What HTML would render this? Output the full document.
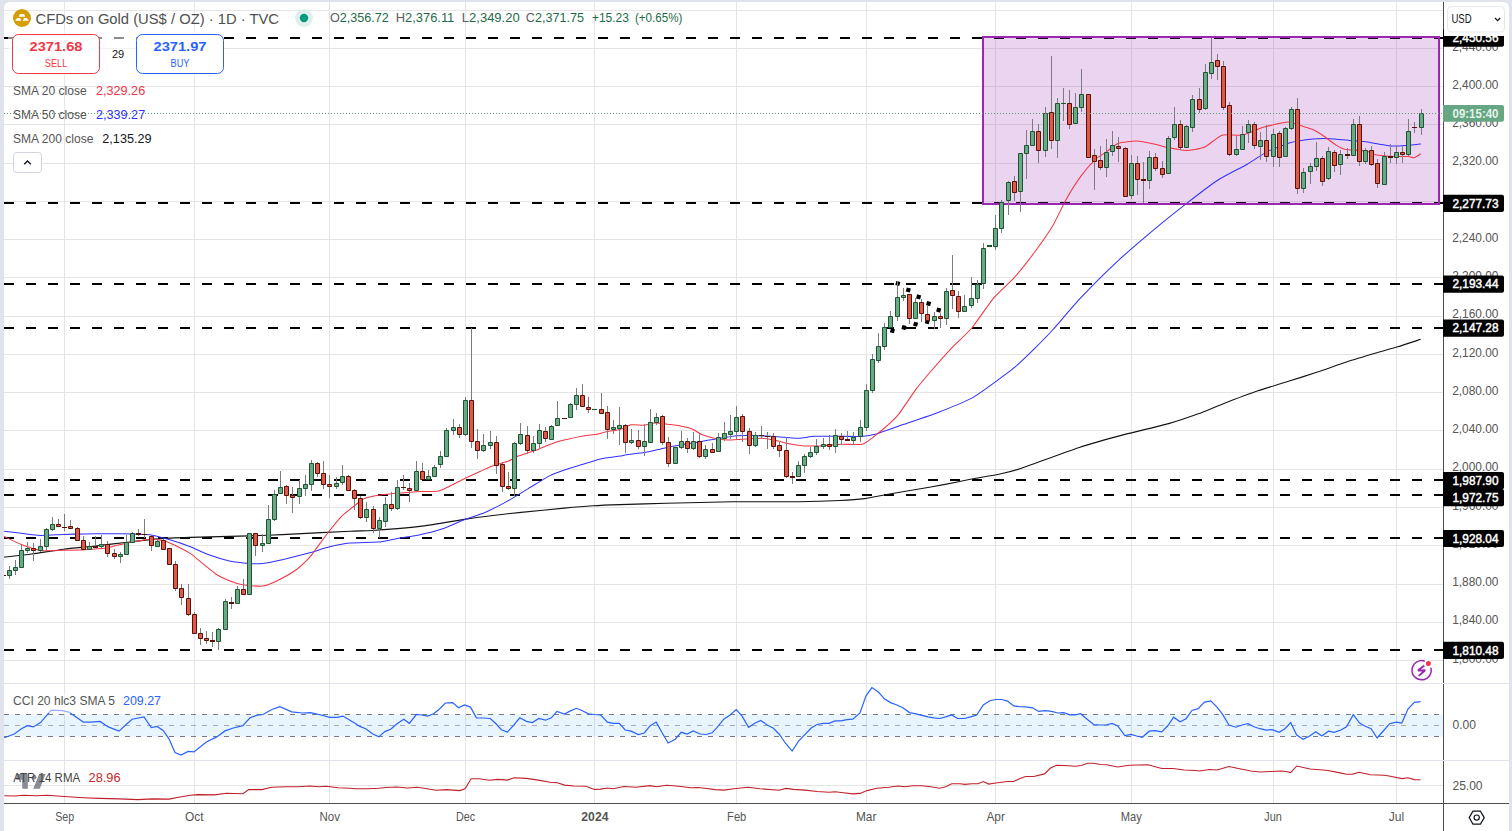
<!DOCTYPE html>
<html><head><meta charset="utf-8"><title>CFDs on Gold</title>
<style>
html,body{margin:0;padding:0;background:#e0e3eb;overflow:hidden;}
svg{display:block;font-family:"Liberation Sans", sans-serif;}
</style></head><body>
<svg width="1512" height="831" viewBox="0 0 1512 831">
<defs>
<clipPath id="mainclip"><rect x="4" y="2" width="1439" height="681"/></clipPath>
<clipPath id="cciclip"><rect x="4" y="684" width="1439" height="76"/></clipPath>
<clipPath id="atrclip"><rect x="4" y="761" width="1439" height="42"/></clipPath>
</defs>
<rect x="0" y="0" width="1512" height="831" fill="#e0e3eb"/>
<path d="M4,7 Q4,2 9,2 L1504,2 Q1509,2 1509,7 L1509,831 L4,831 Z" fill="#ffffff"/>

<path d="M4,660.5H1443 M4,622.5H1443 M4,584.5H1443 M4,545.5H1443 M4,507.5H1443 M4,469.5H1443 M4,430.5H1443 M4,392.5H1443 M4,354.5H1443 M4,316.5H1443 M4,277.5H1443 M4,239.5H1443 M4,201.5H1443 M4,163.5H1443 M4,124.5H1443 M4,86.5H1443 M4,48.5H1443 M4,10.5H1443 M64.5,2V803 M194.5,2V803 M329.5,2V803 M465.5,2V803 M594.5,2V803 M736.5,2V803 M866.5,2V803 M995.5,2V803 M1131.5,2V803 M1273.5,2V803 M1396.5,2V803 M4,785.5H1443" stroke="#e5e5e5" stroke-width="1" fill="none"/>
<g clip-path="url(#mainclip)">
<line x1="4" y1="38" x2="1443" y2="38" stroke="#000" stroke-width="2" stroke-dasharray="10 12"/>
<line x1="4" y1="203" x2="1443" y2="203" stroke="#000" stroke-width="2" stroke-dasharray="10 12"/>
<line x1="4" y1="284" x2="1443" y2="284" stroke="#000" stroke-width="2" stroke-dasharray="10 12"/>
<line x1="4" y1="328" x2="1443" y2="328" stroke="#000" stroke-width="2" stroke-dasharray="10 12"/>
<line x1="4" y1="480" x2="1443" y2="480" stroke="#000" stroke-width="2" stroke-dasharray="10 12"/>
<line x1="4" y1="495" x2="1443" y2="495" stroke="#000" stroke-width="2" stroke-dasharray="10 12"/>
<line x1="4" y1="538" x2="1443" y2="538" stroke="#000" stroke-width="2" stroke-dasharray="10 12"/>
<line x1="4" y1="650" x2="1443" y2="650" stroke="#000" stroke-width="2" stroke-dasharray="10 12"/>
<rect x="983" y="37" width="456" height="167" fill="rgba(156,39,176,0.2)"/>
<path d="M4.20,557.10C6.95,556.79 25.77,554.79 31.70,554.00C37.63,553.21 57.15,550.00 63.50,549.20C69.85,548.40 88.85,546.69 95.20,546.00C101.55,545.31 120.52,543.04 127.00,542.30C133.48,541.56 153.73,539.09 160.00,538.60C166.27,538.11 180.78,537.67 189.70,537.40C198.62,537.13 239.94,536.18 249.20,535.90C258.46,535.62 272.22,535.07 282.30,534.60C292.38,534.13 341.00,531.61 350.00,531.20C359.00,530.79 365.30,530.98 372.30,530.50C379.30,530.02 410.63,527.54 420.00,526.40C429.37,525.26 458.70,520.19 466.00,519.10C473.30,518.01 487.49,516.17 493.00,515.50C498.51,514.83 513.96,513.14 521.10,512.40C528.24,511.66 557.25,508.76 564.40,508.10C571.55,507.44 587.04,506.15 592.60,505.80C598.16,505.45 612.65,504.85 620.00,504.60C627.35,504.35 654.87,503.58 666.10,503.30C677.33,503.02 719.07,501.96 732.30,501.80C745.53,501.64 787.63,501.83 798.40,501.70C809.17,501.57 833.38,500.81 840.00,500.50C846.62,500.19 859.50,499.27 864.60,498.60C869.70,497.93 885.71,494.73 891.00,493.80C896.29,492.87 912.21,490.22 917.50,489.30C922.79,488.38 938.61,485.60 943.90,484.60C949.19,483.60 964.79,480.36 970.40,479.30C976.01,478.24 995.06,475.05 1000.00,474.00C1004.94,472.95 1011.87,471.46 1019.80,468.80C1027.73,466.14 1068.89,450.82 1079.30,447.40C1089.71,443.98 1114.97,436.98 1123.90,434.60C1132.83,432.22 1161.16,425.68 1168.60,423.60C1176.04,421.52 1192.95,415.74 1198.30,413.80C1203.65,411.86 1216.14,406.50 1222.10,404.20C1228.06,401.90 1251.35,393.06 1257.90,390.80C1264.45,388.54 1281.65,383.47 1287.60,381.60C1293.55,379.73 1311.45,374.09 1317.40,372.10C1323.35,370.11 1341.15,363.64 1347.10,361.70C1353.05,359.76 1371.84,354.19 1376.90,352.70C1381.96,351.21 1393.32,348.14 1397.70,346.80C1402.08,345.46 1418.40,340.05 1420.70,339.30" fill="none" stroke="#131313" stroke-width="1.1"/>
<path d="M4.20,531.20C5.90,531.41 17.60,532.88 21.20,533.30C24.80,533.72 35.97,535.29 40.20,535.40C44.43,535.51 59.05,534.55 63.50,534.40C67.95,534.25 80.47,533.97 84.70,533.90C88.93,533.83 101.04,533.70 105.80,533.70C110.56,533.70 127.88,533.79 132.30,533.90C136.72,534.01 146.25,534.21 150.00,534.80C153.75,535.39 165.83,538.63 169.80,539.80C173.77,540.97 185.73,544.97 189.70,546.50C193.67,548.03 205.53,553.65 209.50,555.10C213.47,556.55 225.43,560.17 229.40,561.00C233.37,561.83 245.90,563.16 249.20,563.40C252.50,563.64 259.09,563.77 262.40,563.40C265.71,563.03 277.67,560.73 282.30,559.70C286.93,558.67 304.07,554.36 308.70,553.10C313.33,551.84 324.47,548.10 328.60,547.10C332.73,546.10 345.06,543.60 350.00,543.10C354.94,542.60 373.26,542.56 378.00,542.10C382.74,541.64 393.20,539.23 397.40,538.50C401.60,537.77 415.57,535.74 420.00,534.80C424.43,533.86 437.22,530.62 441.70,529.10C446.18,527.58 460.47,521.27 464.80,519.60C469.13,517.93 480.82,514.20 485.00,512.40C489.18,510.60 502.27,503.98 506.60,501.60C510.93,499.22 523.96,491.20 528.30,488.60C532.64,486.00 546.39,477.47 550.00,475.60C553.61,473.73 561.52,470.91 564.40,469.90C567.28,468.89 575.19,466.59 578.80,465.50C582.41,464.41 596.38,459.94 600.50,459.00C604.62,458.06 617.40,456.53 620.00,456.10C622.60,455.67 623.93,455.08 626.50,454.70C629.07,454.32 641.85,452.98 645.70,452.30C649.55,451.62 661.13,448.70 665.00,447.90C668.87,447.10 680.72,444.95 684.40,444.30C688.08,443.65 698.43,441.98 701.80,441.40C705.17,440.82 714.54,439.06 718.10,438.50C721.66,437.94 734.01,436.09 737.40,435.80C740.79,435.51 748.62,435.55 752.00,435.60C755.38,435.65 766.58,436.04 771.20,436.30C775.82,436.56 793.86,438.20 798.20,438.20C802.54,438.20 810.22,436.49 814.60,436.30C818.98,436.11 837.31,436.29 842.00,436.30C846.69,436.31 858.05,436.64 861.50,436.40C864.95,436.16 872.35,435.08 876.50,433.90C880.65,432.72 896.91,426.72 903.00,424.60C909.09,422.48 930.52,415.35 937.40,412.70C944.28,410.05 966.24,401.01 971.80,398.10C977.36,395.19 988.76,386.64 993.00,383.60C997.24,380.56 1009.97,371.28 1014.20,367.70C1018.43,364.12 1031.46,351.57 1035.30,347.80C1039.14,344.03 1048.09,334.96 1052.60,330.00C1057.11,325.04 1074.08,304.92 1080.40,298.20C1086.72,291.48 1108.47,269.63 1115.80,262.80C1123.13,255.97 1146.62,235.84 1153.70,229.90C1160.78,223.96 1180.28,208.32 1186.60,203.40C1192.92,198.48 1210.84,184.62 1216.90,180.70C1222.96,176.78 1242.15,167.11 1247.20,164.20C1252.25,161.29 1263.10,153.75 1267.40,151.60C1271.70,149.45 1285.65,143.96 1290.20,142.70C1294.75,141.44 1308.92,139.40 1312.90,139.00C1316.88,138.60 1326.49,138.57 1330.00,138.70C1333.51,138.83 1344.63,140.02 1348.00,140.30C1351.37,140.58 1360.69,141.14 1363.70,141.50C1366.71,141.86 1375.45,143.45 1378.10,143.90C1380.75,144.35 1387.79,145.82 1390.20,146.00C1392.61,146.18 1399.80,145.82 1402.20,145.70C1404.60,145.58 1412.33,144.98 1414.20,144.80C1416.07,144.62 1420.23,143.99 1420.90,143.90" fill="none" stroke="#3030ff" stroke-width="1.05"/>
<path d="M4.20,536.50C5.90,537.29 17.39,542.99 21.20,544.40C25.01,545.81 38.07,550.01 42.30,550.60C46.53,551.19 59.26,550.39 63.50,550.30C67.74,550.21 80.47,549.92 84.70,549.70C88.93,549.48 101.57,548.78 105.80,548.10C110.03,547.42 123.29,543.69 127.00,542.90C130.71,542.11 140.60,540.57 142.90,540.20C145.20,539.83 147.70,539.10 150.00,539.20C152.30,539.30 161.93,539.81 165.90,541.20C169.87,542.59 186.00,550.85 189.70,553.10C193.40,555.35 200.26,561.59 202.90,563.70C205.54,565.81 213.45,572.49 216.10,574.20C218.75,575.91 226.75,579.74 229.40,580.80C232.05,581.86 239.30,584.27 242.60,584.80C245.90,585.33 259.09,586.43 262.40,586.10C265.71,585.77 272.39,583.08 275.70,581.50C279.01,579.92 292.20,572.61 295.50,570.30C298.80,567.99 306.73,560.43 308.70,558.40C310.67,556.37 313.16,552.71 315.20,550.00C317.24,547.29 326.52,534.62 329.10,531.30C331.68,527.98 338.35,519.44 341.00,516.80C343.65,514.16 353.21,506.76 355.60,504.90C357.99,503.04 362.39,499.20 364.90,498.20C367.41,497.20 377.13,495.42 380.70,494.90C384.27,494.38 396.62,493.33 400.60,493.00C404.58,492.67 416.68,491.81 420.50,491.60C424.32,491.39 435.85,491.46 438.80,490.90C441.75,490.34 447.40,487.24 450.00,486.00C452.60,484.76 461.80,479.95 464.80,478.50C467.80,477.05 476.97,472.87 480.00,471.50C483.03,470.13 492.29,465.83 495.10,464.80C497.91,463.77 505.79,462.07 508.10,461.20C510.41,460.33 515.46,457.19 518.20,456.10C520.94,455.01 531.60,451.74 535.50,450.30C539.40,448.86 552.43,443.14 557.20,441.70C561.97,440.26 579.42,436.61 583.20,435.90C586.98,435.19 592.60,435.03 595.00,434.60C597.40,434.17 604.70,432.12 607.20,431.60C609.70,431.08 617.59,430.08 620.00,429.40C622.41,428.72 628.92,425.21 631.30,424.80C633.68,424.39 641.39,425.49 643.80,425.30C646.21,425.11 652.78,422.98 655.40,422.90C658.02,422.82 667.58,424.21 670.00,424.50C672.42,424.79 677.39,425.36 679.60,425.80C681.81,426.24 689.88,428.02 692.10,428.90C694.32,429.78 699.49,433.64 701.80,434.60C704.11,435.56 712.61,437.97 715.20,438.50C717.79,439.03 725.48,439.80 727.70,439.90C729.92,440.00 734.01,439.67 737.40,439.50C740.79,439.33 757.73,438.09 761.60,438.20C765.47,438.31 773.21,440.02 776.10,440.60C778.99,441.18 787.62,443.47 790.50,444.00C793.38,444.53 802.01,445.71 804.90,445.90C807.79,446.09 815.69,446.06 819.40,445.90C823.11,445.74 837.62,444.50 842.00,444.30C846.38,444.10 859.49,445.08 863.20,443.90C866.91,442.72 875.65,435.36 879.10,432.50C882.55,429.64 893.99,419.66 897.70,415.30C901.41,410.94 913.03,393.13 916.20,388.90C919.37,384.67 925.96,376.98 929.40,373.00C932.84,369.02 946.36,353.60 950.60,349.10C954.84,344.60 967.56,333.03 971.80,328.00C976.04,322.97 988.76,303.83 993.00,298.80C997.24,293.77 1009.97,282.46 1014.20,277.70C1018.43,272.94 1031.46,256.36 1035.30,251.20C1039.14,246.04 1049.60,231.13 1052.60,226.10C1055.60,221.07 1062.52,205.82 1065.30,200.90C1068.08,195.98 1077.37,181.07 1080.40,176.90C1083.43,172.73 1092.99,161.70 1095.60,159.20C1098.21,156.70 1104.22,153.50 1106.50,151.90C1108.78,150.30 1115.36,144.29 1118.40,143.20C1121.44,142.11 1133.33,140.92 1136.90,141.00C1140.47,141.08 1151.15,143.37 1154.10,144.00C1157.05,144.63 1163.25,146.65 1166.40,147.30C1169.55,147.95 1181.81,150.50 1185.60,150.50C1189.39,150.50 1200.66,148.83 1204.30,147.30C1207.94,145.77 1218.21,136.41 1222.00,135.20C1225.79,133.99 1238.16,135.96 1242.20,135.20C1246.24,134.44 1257.85,128.92 1262.40,127.60C1266.95,126.28 1283.66,122.13 1287.70,122.00C1291.74,121.87 1300.33,125.57 1302.80,126.30C1305.27,127.03 1310.24,128.28 1312.40,129.30C1314.56,130.32 1322.04,134.92 1324.40,136.50C1326.76,138.08 1334.00,143.82 1336.00,145.10C1338.00,146.38 1342.95,148.82 1344.40,149.30C1345.85,149.78 1348.33,149.72 1350.50,149.90C1352.67,150.08 1363.58,150.61 1366.10,151.10C1368.62,151.59 1373.29,154.28 1375.70,154.80C1378.11,155.32 1386.95,156.12 1390.20,156.30C1393.45,156.48 1405.80,156.45 1408.20,156.60C1410.60,156.75 1412.93,158.10 1414.20,157.80C1415.47,157.50 1420.23,154.02 1420.90,153.60" fill="none" stroke="#f23645" stroke-width="1.05"/>
<rect x="983" y="37" width="456" height="167" fill="none" stroke="#9c27b0" stroke-width="2"/>
<path d="M899.27,286.05L895.25,284.98L896.32,280.95L900.35,282.02Z M909.77,292.55L905.75,291.48L906.82,287.45L910.85,288.52Z M920.07,299.45L916.05,298.38L917.12,294.35L921.15,295.42Z M930.07,306.15L926.05,305.08L927.12,301.05L931.15,302.12Z M940.17,312.65L936.15,311.58L937.22,307.55L941.25,308.62Z M893.88,333.25L889.85,332.18L890.92,328.15L894.95,329.22Z M905.48,330.15L901.45,329.08L902.52,325.05L906.55,326.12Z M917.07,326.75L913.05,325.68L914.12,321.65L918.15,322.72Z M928.77,324.35L924.75,323.28L925.82,319.25L929.85,320.32Z" fill="#000"/>
<path d="M3.5,575V576 M9.5,566V579 M15.5,560V575 M21.5,545V568 M27.5,542V553 M33.5,543V561 M40.5,539V552 M46.5,528V550 M52.5,517V531 M58.5,519V527 M64.5,514V531 M70.5,520V529 M77.5,527V541 M83.5,536V550 M89.5,542V550 M95.5,536V548 M101.5,535V548 M107.5,541V557 M114.5,549V559 M120.5,552V563 M126.5,535V555 M132.5,532V542 M138.5,529V536 M144.5,519V538 M151.5,535V551 M157.5,538V546 M163.5,539V549 M169.5,548V564 M175.5,561V591 M181.5,584V605 M188.5,584V616 M194.5,612V633 M200.5,628V645 M206.5,631V644 M212.5,632V647 M218.5,628V650 M225.5,599V629 M231.5,597V609 M237.5,586V604 M243.5,579V595 M249.5,533V595 M255.5,533V556 M262.5,534V552 M268.5,505V543 M274.5,490V521 M280.5,471V494 M286.5,485V504 M292.5,487V513 M299.5,480V504 M305.5,475V496 M311.5,460V491 M317.5,462V477 M323.5,461V489 M329.5,475V498 M336.5,477V489 M342.5,465V485 M348.5,475V490 M354.5,489V510 M360.5,496V519 M366.5,502V522 M373.5,506V533 M379.5,517V538 M385.5,497V527 M391.5,492V511 M397.5,480V510 M403.5,475V490 M409.5,483V502 M416.5,461V490 M422.5,463V480 M428.5,470V480 M434.5,465V477 M440.5,451V468 M446.5,428V456 M453.5,419V435 M459.5,424V438 M465.5,397V436 M471.5,328V448 M477.5,429V459 M483.5,434V452 M490.5,431V449 M496.5,436V474 M502.5,462V492 M508.5,472V490 M514.5,442V496 M520.5,423V445 M527.5,426V454 M533.5,436V453 M539.5,424V448 M545.5,427V442 M551.5,425V440 M557.5,401V426 M564.5,418V419 M570.5,403V418 M576.5,388V410 M582.5,384V406 M588.5,397V413 M594.5,409V410 M601.5,393V414 M607.5,406V439 M613.5,420V434 M619.5,407V445 M625.5,424V453 M631.5,429V444 M638.5,430V449 M644.5,424V456 M650.5,409V442 M656.5,413V425 M662.5,415V445 M668.5,437V467 M675.5,447V464 M681.5,431V449 M687.5,438V453 M693.5,432V450 M699.5,434V458 M705.5,445V459 M712.5,443V452 M718.5,433V452 M724.5,422V441 M730.5,415V439 M736.5,406V440 M742.5,414V442 M749.5,428V454 M755.5,432V447 M761.5,426V439 M767.5,432V449 M773.5,433V449 M779.5,442V457 M786.5,437V478 M792.5,472V484 M798.5,461V477 M804.5,454V473 M810.5,447V458 M816.5,439V455 M823.5,438V449 M829.5,435V450 M835.5,429V453 M841.5,433V445 M847.5,431V440 M853.5,432V445 M860.5,420V442 M866.5,384V431 M872.5,354V393 M878.5,333V363 M884.5,323V350 M890.5,311V327 M897.5,281V321 M903.5,288V301 M909.5,294V324 M915.5,298V318 M921.5,299V322 M927.5,305V320 M934.5,312V329 M940.5,313V328 M946.5,288V325 M952.5,255V309 M958.5,291V318 M964.5,295V311 M971.5,277V308 M977.5,280V303 M983.5,243V289 M989.5,245V246 M995.5,215V250 M1001.5,200V233 M1008.5,181V215 M1014.5,176V201 M1020.5,153V212 M1026.5,130V179 M1032.5,119V146 M1038.5,124V163 M1045.5,107V157 M1051.5,56V149 M1057.5,98V158 M1063.5,88V121 M1069.5,90V129 M1075.5,93V124 M1081.5,69V112 M1088.5,94V158 M1094.5,149V190 M1100.5,146V170 M1106.5,139V177 M1112.5,131V156 M1118.5,137V162 M1125.5,147V197 M1131.5,155V199 M1137.5,156V195 M1143.5,162V203 M1149.5,151V189 M1155.5,153V171 M1162.5,161V178 M1168.5,136V174 M1174.5,107V140 M1180.5,120V150 M1186.5,125V148 M1192.5,95V132 M1199.5,88V113 M1205.5,64V110 M1211.5,38V79 M1217.5,54V80 M1223.5,61V110 M1229.5,102V156 M1236.5,136V156 M1242.5,126V150 M1248.5,120V143 M1254.5,122V149 M1260.5,132V160 M1266.5,125V162 M1273.5,129V167 M1279.5,131V167 M1285.5,127V157 M1291.5,107V130 M1297.5,98V194 M1303.5,168V193 M1310.5,163V184 M1316.5,142V171 M1322.5,156V186 M1328.5,147V180 M1334.5,150V172 M1340.5,150V175 M1347.5,148V159 M1353.5,119V156 M1359.5,116V166 M1365.5,148V164 M1371.5,146V166 M1377.5,159V188 M1384.5,152V184 M1390.5,144V163 M1396.5,146V164 M1402.5,146V163 M1408.5,119V156 M1414.5,122V133 M1421.5,109V135" stroke="#7b7b80" stroke-width="1" fill="none"/>
<path d="M7.5,570.5h4v5h-4z M13.5,567.5h4v3h-4z M19.5,550.5h4v17h-4z M25.5,548.5h4v2h-4z M38.5,546.5h4v4h-4z M44.5,529.5h4v17h-4z M50.5,524.5h4v5h-4z M87.5,546.5h4v3h-4z M99.5,544.5h4v2h-4z M118.5,554.5h4v2h-4z M124.5,542.5h4v12h-4z M130.5,533.5h4v9h-4z M155.5,541.5h4v5h-4z M216.5,629.5h4v12h-4z M223.5,601.5h4v28h-4z M235.5,589.5h4v14h-4z M247.5,533.5h4v61h-4z M260.5,543.5h4v2h-4z M266.5,519.5h4v24h-4z M272.5,494.5h4v25h-4z M278.5,487.5h4v6h-4z M297.5,488.5h4v8h-4z M303.5,484.5h4v4h-4z M309.5,463.5h4v21h-4z M334.5,483.5h4v3h-4z M340.5,476.5h4v6h-4z M364.5,509.5h4v8h-4z M377.5,520.5h4v8h-4z M383.5,504.5h4v17h-4z M395.5,487.5h4v21h-4z M414.5,471.5h4v19h-4z M426.5,476.5h4v3h-4z M432.5,467.5h4v9h-4z M438.5,456.5h4v8h-4z M444.5,430.5h4v26h-4z M451.5,427.5h4v3h-4z M463.5,400.5h4v34h-4z M481.5,445.5h4v5h-4z M488.5,442.5h4v3h-4z M512.5,443.5h4v45h-4z M518.5,434.5h4v9h-4z M531.5,443.5h4v7h-4z M537.5,430.5h4v13h-4z M549.5,426.5h4v13h-4z M555.5,418.5h4v7h-4z M568.5,404.5h4v13h-4z M574.5,395.5h4v9h-4z M611.5,427.5h4v2h-4z M617.5,425.5h4v3h-4z M629.5,440.5h4v2h-4z M642.5,441.5h4v5h-4z M648.5,422.5h4v20h-4z M654.5,417.5h4v5h-4z M673.5,447.5h4v16h-4z M679.5,441.5h4v6h-4z M691.5,441.5h4v7h-4z M703.5,449.5h4v7h-4z M716.5,437.5h4v14h-4z M722.5,433.5h4v5h-4z M728.5,431.5h4v3h-4z M734.5,417.5h4v14h-4z M753.5,435.5h4v10h-4z M796.5,465.5h4v11h-4z M802.5,456.5h4v9h-4z M808.5,452.5h4v4h-4z M814.5,446.5h4v6h-4z M821.5,444.5h4v2h-4z M833.5,435.5h4v11h-4z M851.5,437.5h4v3h-4z M858.5,427.5h4v9h-4z M864.5,390.5h4v37h-4z M870.5,359.5h4v31h-4z M876.5,346.5h4v14h-4z M882.5,327.5h4v19h-4z M888.5,316.5h4v11h-4z M895.5,297.5h4v19h-4z M901.5,295.5h4v2h-4z M913.5,302.5h4v16h-4z M932.5,316.5h4v4h-4z M944.5,291.5h4v27h-4z M962.5,306.5h4v5h-4z M969.5,298.5h4v7h-4z M975.5,284.5h4v14h-4z M981.5,248.5h4v35h-4z M993.5,228.5h4v18h-4z M999.5,202.5h4v26h-4z M1006.5,182.5h4v18h-4z M1018.5,153.5h4v38h-4z M1024.5,145.5h4v8h-4z M1030.5,131.5h4v14h-4z M1043.5,113.5h4v37h-4z M1055.5,103.5h4v37h-4z M1073.5,107.5h4v16h-4z M1079.5,94.5h4v13h-4z M1104.5,152.5h4v15h-4z M1110.5,145.5h4v6h-4z M1129.5,163.5h4v32h-4z M1147.5,157.5h4v23h-4z M1166.5,138.5h4v35h-4z M1172.5,124.5h4v13h-4z M1184.5,126.5h4v21h-4z M1190.5,99.5h4v28h-4z M1203.5,72.5h4v36h-4z M1209.5,62.5h4v11h-4z M1234.5,149.5h4v5h-4z M1240.5,134.5h4v15h-4z M1246.5,124.5h4v8h-4z M1258.5,140.5h4v6h-4z M1271.5,134.5h4v22h-4z M1283.5,128.5h4v28h-4z M1289.5,109.5h4v19h-4z M1301.5,172.5h4v16h-4z M1308.5,166.5h4v5h-4z M1314.5,158.5h4v8h-4z M1326.5,151.5h4v27h-4z M1338.5,154.5h4v10h-4z M1351.5,124.5h4v31h-4z M1363.5,150.5h4v11h-4z M1382.5,156.5h4v28h-4z M1394.5,152.5h4v5h-4z M1406.5,131.5h4v23h-4z M1419.5,113.5h4v14h-4z" fill="#6aa886" stroke="#1b5631" stroke-width="1"/>
<path d="M31.5,548.5h4v2h-4z M56.5,524.5h4v2h-4z M68.5,526.5h4v2h-4z M75.5,528.5h4v12h-4z M81.5,540.5h4v9h-4z M105.5,544.5h4v9h-4z M112.5,553.5h4v3h-4z M149.5,536.5h4v9h-4z M161.5,540.5h4v9h-4z M167.5,548.5h4v16h-4z M173.5,564.5h4v24h-4z M179.5,588.5h4v9h-4z M186.5,598.5h4v16h-4z M192.5,614.5h4v19h-4z M198.5,633.5h4v5h-4z M204.5,638.5h4v2h-4z M241.5,589.5h4v5h-4z M253.5,533.5h4v12h-4z M284.5,486.5h4v9h-4z M290.5,495.5h4v2h-4z M315.5,463.5h4v10h-4z M321.5,473.5h4v11h-4z M327.5,484.5h4v2h-4z M346.5,476.5h4v14h-4z M352.5,490.5h4v8h-4z M358.5,498.5h4v19h-4z M371.5,509.5h4v19h-4z M389.5,504.5h4v4h-4z M407.5,488.5h4v2h-4z M420.5,471.5h4v8h-4z M457.5,427.5h4v7h-4z M469.5,400.5h4v41h-4z M475.5,441.5h4v9h-4z M494.5,442.5h4v23h-4z M500.5,464.5h4v22h-4z M506.5,486.5h4v2h-4z M525.5,435.5h4v15h-4z M543.5,431.5h4v7h-4z M580.5,395.5h4v11h-4z M586.5,407.5h4v2h-4z M599.5,409.5h4v4h-4z M605.5,412.5h4v17h-4z M623.5,425.5h4v17h-4z M636.5,440.5h4v6h-4z M660.5,416.5h4v26h-4z M666.5,442.5h4v21h-4z M685.5,441.5h4v7h-4z M697.5,441.5h4v15h-4z M710.5,449.5h4v3h-4z M740.5,416.5h4v15h-4z M747.5,431.5h4v14h-4z M771.5,436.5h4v10h-4z M777.5,445.5h4v5h-4z M784.5,450.5h4v26h-4z M827.5,444.5h4v2h-4z M839.5,436.5h4v3h-4z M907.5,294.5h4v24h-4z M919.5,302.5h4v11h-4z M925.5,314.5h4v6h-4z M938.5,316.5h4v2h-4z M950.5,290.5h4v5h-4z M956.5,296.5h4v15h-4z M1012.5,181.5h4v11h-4z M1036.5,131.5h4v19h-4z M1049.5,112.5h4v28h-4z M1067.5,103.5h4v21h-4z M1086.5,94.5h4v63h-4z M1092.5,155.5h4v6h-4z M1098.5,160.5h4v7h-4z M1116.5,146.5h4v2h-4z M1123.5,148.5h4v48h-4z M1135.5,163.5h4v16h-4z M1153.5,157.5h4v11h-4z M1160.5,168.5h4v6h-4z M1178.5,124.5h4v23h-4z M1197.5,99.5h4v10h-4z M1215.5,60.5h4v6h-4z M1221.5,66.5h4v41h-4z M1227.5,105.5h4v49h-4z M1252.5,124.5h4v21h-4z M1264.5,140.5h4v16h-4z M1277.5,133.5h4v24h-4z M1295.5,109.5h4v79h-4z M1320.5,158.5h4v23h-4z M1332.5,152.5h4v13h-4z M1357.5,124.5h4v37h-4z M1369.5,150.5h4v14h-4z M1375.5,163.5h4v20h-4z M1400.5,152.5h4v2h-4z" fill="#de5a48" stroke="#5a0f08" stroke-width="1"/>
<path d="M592,409h5v1h-5z M987,245h5v2h-5z M1061,103h5v1h-5z" fill="#1b5631"/>
<path d="M1,575h5v1h-5z M62,527h5v1h-5z M93,546h5v2h-5z M136,533h5v2h-5z M142,534h5v1h-5z M210,640h5v2h-5z M229,602h5v2h-5z M401,487h5v1h-5z M562,418h5v1h-5z M759,435h5v1h-5z M765,436h5v1h-5z M790,476h5v2h-5z M845,439h5v2h-5z M1141,179h5v2h-5z M1345,154h5v2h-5z M1388,156h5v2h-5z M1412,127h5v1h-5z" fill="#5a0f08"/>
<line x1="4" y1="113.5" x2="1443" y2="113.5" stroke="#5a9c78" stroke-width="1" stroke-dasharray="1 2"/>
</g>
<rect x="8" y="30" width="216" height="46" fill="rgba(255,255,255,0.55)"/>
<circle cx="22" cy="18" r="9" fill="#d59e06"/>
<path d="M19.9,13.9L24.1,13.9L25.2,16.8L18.8,16.8Z M17.2,18.1L20.0,18.1L21.3,20.8L15.2,20.8Z M24.0,18.1L26.8,18.1L28.8,20.8L22.7,20.8Z" fill="#fff"/>
<text x="35.5" y="23.6" font-size="14.5" fill="#505050" textLength="243.5" lengthAdjust="spacingAndGlyphs">CFDs on Gold (US$ / OZ) · 1D · TVC</text>
<circle cx="304" cy="18" r="9" fill="#dff0ec"/><circle cx="304" cy="18" r="4.2" fill="#089981"/>
<text x="329.9" y="22.4" font-size="12.6" fill="#1e6b48" textLength="58.9" lengthAdjust="spacingAndGlyphs"><tspan fill="#5d5d5d">O</tspan>2,356.72</text>
<text x="395.7" y="22.4" font-size="12.6" fill="#1e6b48" textLength="58.6" lengthAdjust="spacingAndGlyphs"><tspan fill="#5d5d5d">H</tspan>2,376.11</text>
<text x="461.8" y="22.4" font-size="12.6" fill="#1e6b48" textLength="57.9" lengthAdjust="spacingAndGlyphs"><tspan fill="#5d5d5d">L</tspan>2,349.20</text>
<text x="525.8" y="22.4" font-size="12.6" fill="#1e6b48" textLength="58.2" lengthAdjust="spacingAndGlyphs"><tspan fill="#5d5d5d">C</tspan>2,371.75</text>
<text x="591.9" y="22.4" font-size="12.6" fill="#1e6b48" textLength="37.1" lengthAdjust="spacingAndGlyphs">+15.23</text>
<text x="634.9" y="22.4" font-size="12.6" fill="#1e6b48" textLength="47.6" lengthAdjust="spacingAndGlyphs">(+0.65%)</text>
<rect x="12.5" y="34.5" width="87" height="39" rx="6" fill="#fff" stroke="#f23645" stroke-width="1"/>
<text x="56" y="51" font-size="13.5" font-weight="bold" fill="#f23645" text-anchor="middle" textLength="53" lengthAdjust="spacingAndGlyphs">2371.68</text>
<text x="56" y="67" font-size="11" fill="#f23645" text-anchor="middle" textLength="22.5" lengthAdjust="spacingAndGlyphs">SELL</text>
<text x="118" y="58" font-size="11" fill="#131722" text-anchor="middle">29</text>
<rect x="136.5" y="34.5" width="87" height="39" rx="6" fill="#fff" stroke="#2962ff" stroke-width="1"/>
<text x="180" y="51" font-size="13.5" font-weight="bold" fill="#2962ff" text-anchor="middle" textLength="53" lengthAdjust="spacingAndGlyphs">2371.97</text>
<text x="180" y="67" font-size="11" fill="#2962ff" text-anchor="middle" textLength="18.9" lengthAdjust="spacingAndGlyphs">BUY</text>
<text x="13" y="94.8" font-size="12.3" fill="#555" textLength="73.6" lengthAdjust="spacingAndGlyphs">SMA 20 close</text>
<text x="95.9" y="94.8" font-size="12.3" fill="#f23645" textLength="49.3" lengthAdjust="spacingAndGlyphs">2,329.26</text>
<text x="13" y="118.8" font-size="12.3" fill="#555" textLength="73.6" lengthAdjust="spacingAndGlyphs">SMA 50 close</text>
<text x="95.9" y="118.8" font-size="12.3" fill="#3030ff" textLength="49.3" lengthAdjust="spacingAndGlyphs">2,339.27</text>
<text x="13" y="143" font-size="12.3" fill="#555" textLength="80.5" lengthAdjust="spacingAndGlyphs">SMA 200 close</text>
<text x="102.3" y="143" font-size="12.3" fill="#131722" textLength="49.3" lengthAdjust="spacingAndGlyphs">2,135.29</text>
<rect x="13.5" y="152.5" width="28" height="20" rx="3" fill="#fff" stroke="#d1d4dc" stroke-width="1"/>
<path d="M24.2,164.3l3.3,-3.3l3.3,3.3" fill="none" stroke="#131722" stroke-width="1.4"/>
<rect x="1444" y="2" width="65" height="801" fill="#fff"/>
<path d="M1443.5,2V683 M1443.5,684V760 M1443.5,761V831" stroke="#4e4e4e" stroke-width="1"/>
<text x="1498.5" y="662.7" font-size="12.2" fill="#555" text-anchor="end" textLength="46.3" lengthAdjust="spacingAndGlyphs">1,800.00</text>
<text x="1498.5" y="624.4" font-size="12.2" fill="#555" text-anchor="end" textLength="46.3" lengthAdjust="spacingAndGlyphs">1,840.00</text>
<text x="1498.5" y="586.2" font-size="12.2" fill="#555" text-anchor="end" textLength="46.3" lengthAdjust="spacingAndGlyphs">1,880.00</text>
<text x="1498.5" y="547.9" font-size="12.2" fill="#555" text-anchor="end" textLength="46.3" lengthAdjust="spacingAndGlyphs">1,920.00</text>
<text x="1498.5" y="509.6" font-size="12.2" fill="#555" text-anchor="end" textLength="46.3" lengthAdjust="spacingAndGlyphs">1,960.00</text>
<text x="1498.5" y="471.4" font-size="12.2" fill="#555" text-anchor="end" textLength="46.3" lengthAdjust="spacingAndGlyphs">2,000.00</text>
<text x="1498.5" y="433.1" font-size="12.2" fill="#555" text-anchor="end" textLength="46.3" lengthAdjust="spacingAndGlyphs">2,040.00</text>
<text x="1498.5" y="394.9" font-size="12.2" fill="#555" text-anchor="end" textLength="46.3" lengthAdjust="spacingAndGlyphs">2,080.00</text>
<text x="1498.5" y="356.6" font-size="12.2" fill="#555" text-anchor="end" textLength="46.3" lengthAdjust="spacingAndGlyphs">2,120.00</text>
<text x="1498.5" y="318.3" font-size="12.2" fill="#555" text-anchor="end" textLength="46.3" lengthAdjust="spacingAndGlyphs">2,160.00</text>
<text x="1498.5" y="280.1" font-size="12.2" fill="#555" text-anchor="end" textLength="46.3" lengthAdjust="spacingAndGlyphs">2,200.00</text>
<text x="1498.5" y="241.8" font-size="12.2" fill="#555" text-anchor="end" textLength="46.3" lengthAdjust="spacingAndGlyphs">2,240.00</text>
<text x="1498.5" y="203.5" font-size="12.2" fill="#555" text-anchor="end" textLength="46.3" lengthAdjust="spacingAndGlyphs">2,280.00</text>
<text x="1498.5" y="165.3" font-size="12.2" fill="#555" text-anchor="end" textLength="46.3" lengthAdjust="spacingAndGlyphs">2,320.00</text>
<text x="1498.5" y="127.0" font-size="12.2" fill="#555" text-anchor="end" textLength="46.3" lengthAdjust="spacingAndGlyphs">2,360.00</text>
<text x="1498.5" y="88.7" font-size="12.2" fill="#555" text-anchor="end" textLength="46.3" lengthAdjust="spacingAndGlyphs">2,400.00</text>
<text x="1498.5" y="50.5" font-size="12.2" fill="#555" text-anchor="end" textLength="46.3" lengthAdjust="spacingAndGlyphs">2,440.00</text>
<path d="M1443,29.47h59a2,2 0 0 1 2,2v13.2a2,2 0 0 1 -2,2h-59z" fill="#000"/>
<text x="1498.5" y="42.3" font-size="12.2" fill="#fff" stroke="#fff" stroke-width="0.45" text-anchor="end" textLength="46" lengthAdjust="spacingAndGlyphs">2,450.56</text>
<path d="M1443,194.80h59a2,2 0 0 1 2,2v13.2a2,2 0 0 1 -2,2h-59z" fill="#000"/>
<text x="1498.5" y="207.6" font-size="12.2" fill="#fff" stroke="#fff" stroke-width="0.45" text-anchor="end" textLength="46" lengthAdjust="spacingAndGlyphs">2,277.73</text>
<path d="M1443,275.44h59a2,2 0 0 1 2,2v13.2a2,2 0 0 1 -2,2h-59z" fill="#000"/>
<text x="1498.5" y="288.2" font-size="12.2" fill="#fff" stroke="#fff" stroke-width="0.45" text-anchor="end" textLength="46" lengthAdjust="spacingAndGlyphs">2,193.44</text>
<path d="M1443,319.59h59a2,2 0 0 1 2,2v13.2a2,2 0 0 1 -2,2h-59z" fill="#000"/>
<text x="1498.5" y="332.4" font-size="12.2" fill="#fff" stroke="#fff" stroke-width="0.45" text-anchor="end" textLength="46" lengthAdjust="spacingAndGlyphs">2,147.28</text>
<path d="M1443,472.05h59a2,2 0 0 1 2,2v13.2a2,2 0 0 1 -2,2h-59z" fill="#000"/>
<text x="1498.5" y="484.9" font-size="12.2" fill="#fff" stroke="#fff" stroke-width="0.45" text-anchor="end" textLength="46" lengthAdjust="spacingAndGlyphs">1,987.90</text>
<path d="M1443,489.05h59a2,2 0 0 1 2,2v13.2a2,2 0 0 1 -2,2h-59z" fill="#000"/>
<text x="1498.5" y="501.8" font-size="12.2" fill="#fff" stroke="#fff" stroke-width="0.45" text-anchor="end" textLength="46" lengthAdjust="spacingAndGlyphs">1,972.75</text>
<path d="M1443,529.92h59a2,2 0 0 1 2,2v13.2a2,2 0 0 1 -2,2h-59z" fill="#000"/>
<text x="1498.5" y="542.7" font-size="12.2" fill="#fff" stroke="#fff" stroke-width="0.45" text-anchor="end" textLength="46" lengthAdjust="spacingAndGlyphs">1,928.04</text>
<path d="M1443,641.77h59a2,2 0 0 1 2,2v13.2a2,2 0 0 1 -2,2h-59z" fill="#000"/>
<text x="1498.5" y="654.6" font-size="12.2" fill="#fff" stroke="#fff" stroke-width="0.45" text-anchor="end" textLength="46" lengthAdjust="spacingAndGlyphs">1,810.48</text>
<path d="M1443,105h59a2,2 0 0 1 2,2v12.7a2,2 0 0 1 -2,2h-59z" fill="#66a683"/>
<text x="1498.5" y="118" font-size="12" font-weight="bold" fill="#e3f3ea" text-anchor="end" textLength="46" lengthAdjust="spacingAndGlyphs">09:15:40</text>
<rect x="1444" y="2" width="65" height="34" fill="#fff"/>
<rect x="1447.5" y="6.5" width="57" height="25.5" rx="4" fill="#fff" stroke="#e6e8ee" stroke-width="1"/>
<text x="1451.4" y="22.9" font-size="12.4" fill="#131722" textLength="20.2" lengthAdjust="spacingAndGlyphs">USD</text>
<path d="M1495,18l2.6,2.6l2.6,-2.6" fill="none" stroke="#131722" stroke-width="1.3"/>
<circle cx="1421.6" cy="670.3" r="12" fill="#fff"/>
<path d="M1430.83,667.6A9.6,9.6 0 1 1 1424.73,661.17" fill="none" stroke="#9c27b0" stroke-width="1.5"/>
<path d="M1424.3,665.6L1418.0,670.6L1425.2,670.3L1418.6,675.9" fill="none" stroke="#9c27b0" stroke-width="1.9" stroke-linejoin="miter" stroke-miterlimit="3"/>
<circle cx="1428.4" cy="663.5" r="2.5" fill="#f23645"/>
<rect x="4" y="714.5" width="1439" height="22" fill="rgba(33,150,243,0.1)"/>
<line x1="4" y1="714.5" x2="1443" y2="714.5" stroke="#787b86" stroke-width="1" stroke-dasharray="5 6"/>
<line x1="4" y1="725.5" x2="1443" y2="725.5" stroke="#787b86" stroke-opacity="0.6" stroke-width="1" stroke-dasharray="5 6"/>
<line x1="4" y1="736.5" x2="1443" y2="736.5" stroke="#787b86" stroke-width="1" stroke-dasharray="5 6"/>
<g clip-path="url(#cciclip)"><polyline points="4.3,737.8 14.3,734.0 21.4,728.8 27.4,725.7 33.3,726.9 40.5,722.6 51.2,710.2 61.9,710.7 69.0,712.1 83.3,722.1 90.5,722.1 100.0,721.4 108.3,726.9 119.0,731.1 126.2,724.5 132.1,719.2 144.0,716.9 151.2,727.6 157.1,726.4 163.1,730.4 169.0,738.8 175.0,752.6 181.0,755.0 188.1,751.4 194.0,751.9 206.0,742.3 216.7,736.9 225.0,730.9 233.3,728.0 242.9,725.7 250.0,717.8 257.1,715.2 263.1,714.5 271.4,709.7 279.8,706.6 291.7,711.9 302.4,713.0 310.7,712.6 319.0,714.5 329.8,717.3 336.9,717.3 342.9,716.1 350.0,720.2 355.0,723.3 359.8,726.4 365.7,728.8 372.9,734.0 378.8,736.9 384.8,731.6 390.7,729.2 396.7,724.0 403.8,719.2 409.3,723.3 416.4,714.5 421.7,715.0 427.6,716.1 433.6,713.8 439.5,709.0 445.5,703.0 452.6,702.6 458.6,707.8 464.5,705.0 470.5,707.1 476.4,717.8 483.6,718.0 490.2,718.5 495.5,723.3 501.4,729.7 507.4,732.1 513.3,725.7 519.8,717.8 526.4,721.4 532.4,722.6 538.8,718.5 545.5,720.2 551.4,717.8 556.9,711.4 564.5,714.0 570.5,710.9 576.4,708.3 582.4,710.7 588.3,713.8 594.3,714.5 600.7,715.0 607.4,722.1 613.3,723.3 619.3,723.3 625.2,730.0 631.2,731.1 638.3,734.5 644.3,733.0 650.2,725.7 656.2,722.1 662.1,732.8 668.1,743.0 675.2,739.2 681.2,732.3 687.1,734.0 693.1,730.9 700.2,734.0 706.2,734.5 712.1,732.8 717.1,727.3 723.8,719.2 730.2,715.0 736.2,709.5 742.1,716.1 748.6,727.3 754.8,723.3 760.7,720.4 767.1,725.0 773.1,728.0 779.0,734.0 785.7,743.5 792.1,751.1 798.6,741.1 804.8,734.7 811.2,728.0 817.1,724.5 823.1,723.3 829.0,723.3 835.0,720.9 841.0,720.9 846.9,719.7 852.9,719.2 860.0,713.0 866.0,695.9 871.9,687.6 878.6,692.3 884.5,698.8 890.5,702.6 896.9,705.0 902.9,707.8 909.5,712.6 916.0,713.8 921.9,715.4 927.9,716.9 933.8,717.8 939.8,718.5 945.7,716.9 951.7,715.0 957.6,718.5 964.3,718.5 970.7,716.9 976.7,715.0 983.3,705.0 989.8,700.7 995.7,699.5 1001.7,699.5 1007.6,701.1 1013.6,705.9 1019.5,706.6 1025.5,706.9 1032.6,707.8 1038.6,711.4 1045.2,710.7 1051.7,711.4 1057.6,713.0 1063.6,712.6 1070.0,714.9 1075.1,714.9 1080.6,713.7 1087.1,719.2 1093.9,724.7 1100.2,725.0 1105.7,725.0 1112.0,723.5 1117.8,726.0 1124.8,735.5 1130.8,734.3 1136.6,736.0 1142.4,737.3 1149.2,731.2 1155.0,730.7 1161.8,731.8 1168.0,725.5 1173.6,717.2 1180.1,721.7 1186.1,718.7 1191.9,710.4 1198.2,708.6 1204.5,702.1 1210.8,700.8 1217.0,707.1 1222.8,714.7 1228.9,725.0 1235.9,727.2 1242.2,725.0 1248.0,723.7 1254.0,726.7 1259.8,728.7 1266.1,730.2 1272.3,729.7 1279.1,732.3 1284.9,728.7 1290.7,722.5 1296.7,735.0 1303.2,739.3 1309.3,736.3 1315.8,731.8 1321.8,736.0 1328.4,731.2 1334.4,732.3 1341.0,730.0 1346.5,726.7 1353.3,714.7 1359.6,723.0 1365.3,726.2 1371.1,728.7 1377.1,738.0 1383.7,730.5 1389.7,723.7 1396.2,722.2 1401.8,723.0 1408.0,709.1 1414.3,702.3 1420.6,701.6" fill="none" stroke="#2962ff" stroke-width="1.2"/></g>
<rect x="8" y="693" width="158" height="20" fill="rgba(255,255,255,0.5)"/>
<text x="13" y="704.6" font-size="12.3" fill="#555" textLength="102" lengthAdjust="spacingAndGlyphs">CCI 20 hlc3 SMA 5</text>
<text x="123" y="704.6" font-size="12.3" fill="#2962ff" textLength="38" lengthAdjust="spacingAndGlyphs">209.27</text>
<text x="1452.5" y="729.3" font-size="12" fill="#555">0.00</text>
<g clip-path="url(#atrclip)"><polyline points="4.3,795.8 14.3,796.0 23.8,795.3 35.7,795.8 47.6,795.3 64.3,796.5 83.3,797.7 100.0,798.4 119.0,798.9 138.1,799.6 152.4,798.9 169.0,799.1 178.6,797.2 190.5,795.3 197.6,794.6 214.3,794.9 226.2,793.2 242.9,793.7 248.8,789.6 261.9,789.6 271.4,787.2 285.7,786.8 297.6,786.8 309.5,786.0 319.0,786.8 326.2,786.3 338.1,787.7 350.0,788.2 355.0,788.7 366.9,788.7 378.8,788.2 386.0,787.5 396.7,787.0 407.4,788.0 416.9,787.2 424.0,788.2 436.0,790.3 446.7,789.6 459.8,790.6 465.0,788.7 471.2,778.7 478.8,778.7 489.5,780.3 497.9,779.4 507.4,780.1 514.0,777.7 526.4,778.4 538.3,780.1 550.2,782.2 557.4,782.7 564.5,785.1 574.0,786.0 585.9,786.3 594.3,789.4 600.2,789.1 607.4,788.0 613.3,788.7 624.0,786.5 635.9,787.2 650.2,785.6 656.2,786.8 666.9,785.3 678.8,786.3 690.7,787.7 697.9,787.5 705.0,788.2 715.0,789.6 724.3,790.1 733.8,788.7 748.1,787.2 760.0,788.7 779.0,790.3 785.7,788.4 793.3,789.4 805.2,790.1 817.1,791.5 829.0,792.2 835.0,791.8 843.3,792.7 852.9,793.9 860.0,793.4 867.1,790.6 876.7,788.2 888.6,787.2 898.1,786.0 905.2,786.8 912.4,785.8 921.9,785.8 929.0,786.5 939.8,788.2 945.7,786.8 951.7,783.7 960.0,783.7 964.8,784.4 971.9,783.7 977.9,783.7 983.3,781.5 988.6,784.1 995.7,783.0 1007.6,781.5 1013.6,781.5 1019.5,778.7 1025.5,776.5 1033.8,776.5 1044.5,773.9 1050.5,768.0 1056.4,765.3 1065.0,765.5 1075.1,766.3 1081.3,765.5 1087.6,763.3 1093.9,763.3 1100.2,764.5 1106.5,764.8 1117.8,767.0 1129.1,765.3 1147.9,764.8 1161.8,768.5 1173.1,768.5 1184.4,770.0 1195.7,770.5 1199.5,771.0 1209.5,769.5 1217.0,770.0 1228.9,766.5 1240.9,769.0 1251.0,771.0 1259.8,772.0 1271.1,771.5 1281.1,771.0 1286.2,771.5 1290.7,772.6 1296.7,766.0 1310.0,769.0 1326.4,770.3 1338.9,772.6 1346.5,774.3 1352.8,774.1 1359.1,772.3 1370.3,774.8 1384.2,775.3 1390.5,776.3 1401.8,778.6 1408.0,777.8 1414.3,779.6 1420.6,779.8" fill="none" stroke="#c0202a" stroke-width="1.1"/></g>
<path d="M16.2,774H27.8V788.7H22.2V779.7H16.2Z M39.2,774.1H45.6L39.8,788.7H33.2Z" fill="#898c94"/><circle cx="34.3" cy="777.2" r="2.2" fill="#898c94"/>
<text x="13.2" y="781.7" font-size="12.3" fill="#444" textLength="67" lengthAdjust="spacingAndGlyphs">ATR 14 RMA</text>
<text x="88.6" y="781.5" font-size="12.3" fill="#c62828" textLength="32" lengthAdjust="spacingAndGlyphs">28.96</text>
<text x="1452.5" y="790" font-size="12" fill="#555">25.00</text>
<path d="M4,683.5H1509 M4,760.5H1509" stroke="#e0e3eb" stroke-width="1"/>
<path d="M4,803.5H1443" stroke="#4e4e4e" stroke-width="1"/>
<path d="M1444,803.5H1509" stroke="#4e4e4e" stroke-width="1"/>
<text x="64.7" y="820.9" font-size="12.2" fill="#555" font-weight="normal" text-anchor="middle" textLength="18.9" lengthAdjust="spacingAndGlyphs">Sep</text>
<text x="194.2" y="820.9" font-size="12.2" fill="#555" font-weight="normal" text-anchor="middle" textLength="18.5" lengthAdjust="spacingAndGlyphs">Oct</text>
<text x="329.8" y="820.9" font-size="12.2" fill="#555" font-weight="normal" text-anchor="middle" textLength="20.5" lengthAdjust="spacingAndGlyphs">Nov</text>
<text x="465.5" y="820.9" font-size="12.2" fill="#555" font-weight="normal" text-anchor="middle" textLength="19.2" lengthAdjust="spacingAndGlyphs">Dec</text>
<text x="594.9" y="820.9" font-size="12.2" fill="#555" font-weight="bold" text-anchor="middle" textLength="27.1" lengthAdjust="spacingAndGlyphs">2024</text>
<text x="736.7" y="820.9" font-size="12.2" fill="#555" font-weight="normal" text-anchor="middle" textLength="19.2" lengthAdjust="spacingAndGlyphs">Feb</text>
<text x="866.2" y="820.9" font-size="12.2" fill="#555" font-weight="normal" text-anchor="middle" textLength="20.5" lengthAdjust="spacingAndGlyphs">Mar</text>
<text x="995.7" y="820.9" font-size="12.2" fill="#555" font-weight="normal" text-anchor="middle" textLength="18.5" lengthAdjust="spacingAndGlyphs">Apr</text>
<text x="1131.3" y="820.9" font-size="12.2" fill="#555" font-weight="normal" text-anchor="middle" textLength="21" lengthAdjust="spacingAndGlyphs">May</text>
<text x="1273.1" y="820.9" font-size="12.2" fill="#555" font-weight="normal" text-anchor="middle" textLength="17.5" lengthAdjust="spacingAndGlyphs">Jun</text>
<text x="1396.4" y="820.9" font-size="12.2" fill="#555" font-weight="normal" text-anchor="middle" textLength="15.5" lengthAdjust="spacingAndGlyphs">Jul</text>
<polygon points="1484.20,817.60 1480.45,824.10 1472.95,824.10 1469.20,817.60 1472.95,811.10 1480.45,811.10" fill="none" stroke="#131722" stroke-width="1.2"/>
<circle cx="1476.7" cy="817.6" r="2.6" fill="none" stroke="#131722" stroke-width="1.2"/>
<path d="M1503,2Q1509,2 1509,8L1509,2Z M4,8Q4,2 10,2L4,2Z" fill="#e0e3eb"/>
</svg></body></html>
